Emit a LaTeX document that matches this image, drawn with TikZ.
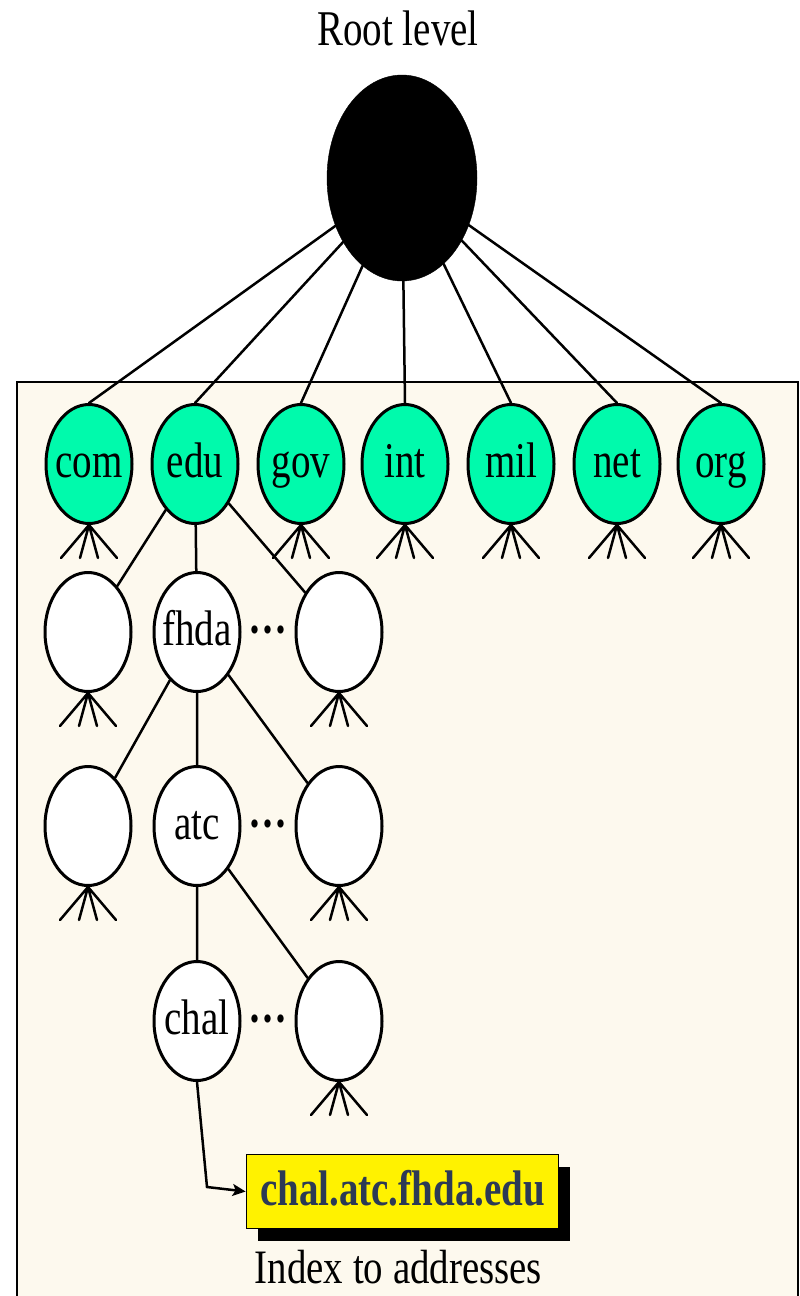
\documentclass[tikz,border=0pt]{standalone}
\usepackage{fontspec}
\setmainfont{Liberation Serif}[FakeStretch=0.78]
\newfontfamily\idxfont{Liberation Serif}[FakeStretch=0.81]
\usetikzlibrary{shapes.geometric,arrows.meta,shadows}
\definecolor{tldgreen}{RGB}{0,250,172}
\definecolor{paper}{RGB}{253,249,238}
\definecolor{addrtext}{RGB}{44,58,85}
\newcommand\crowfeet[1]{\draw[edge] (#1.south) -- ++(-28,33) (#1.south) -- ++(-9,33) (#1.south) -- ++(9,33) (#1.south) -- ++(28,33);}
\begin{document}
\begin{tikzpicture}[x=1pt,y=-1pt,
  edge/.style={line width=2.5pt, line cap=round},
  tld/.style={ellipse, draw, line width=3pt, fill=tldgreen, minimum width=86pt, minimum height=119pt, inner sep=0pt},
  sub/.style={tld, fill=white},
  lbl/.style={font=\fontsize{50}{50}\selectfont, text height=35pt, text depth=9pt, inner sep=0pt},
  big/.style={font=\fontsize{50}{50}\selectfont, inner sep=0pt},
]
\useasboundingbox (0,0) rectangle (800,1296);
\fill[white] (0,0) rectangle (800,1296);
\draw[line width=2.5pt, fill=paper] (17,382) rectangle (798,1320);

% root
\node[big, anchor=base] (rootlbl) at (398,45) {Root level};
\node[ellipse, fill=black, draw, minimum width=150pt, minimum height=206pt, inner sep=0pt] (root) at (402,178) {};

% top-level domains
\node[tld, label={[lbl]center:com}] (com) at (89,464) {};
\node[tld, label={[lbl]center:edu}] (edu) at (195,464) {};
\node[tld, label={[lbl]center:gov}] (gov) at (301,464) {};
\node[tld, label={[lbl]center:int}] (int) at (405,464) {};
\node[tld, label={[lbl]center:mil}] (mil) at (511,464) {};
\node[tld, label={[lbl]center:net}] (net) at (617,464) {};
\node[tld, label={[lbl]center:org}] (org) at (721,464) {};

\foreach \n in {com,edu,gov,int,mil,net,org} {\draw[edge] (root) -- (\n.north);}
\foreach \n in {com,gov,int,mil,net,org} {\crowfeet{\n}}

% second level
\node[sub] (l2) at (88,632) {};
\node[sub, label={[lbl]center:fhda}] (fhda) at (197,632) {};
\node[sub] (r2) at (339,632) {};
\node[big, anchor=base] (d2) at (268,646) {\textbf{···}};
\draw[edge] (edu) -- (l2) (edu) -- (fhda) (edu) -- (r2);
\crowfeet{l2}\crowfeet{r2}

% third level
\node[sub] (l3) at (88,826) {};
\node[sub, label={[lbl]center:atc}] (atc) at (197,826) {};
\node[sub] (r3) at (339,826) {};
\node[big, anchor=base] (d3) at (268,840) {\textbf{···}};
\draw[edge] (fhda) -- (l3) (fhda) -- (atc) (fhda) -- (r3);
\crowfeet{l3}\crowfeet{r3}

% fourth level
\node[sub, label={[lbl]center:chal}] (chal) at (197,1021) {};
\node[sub] (r4) at (339,1021) {};
\node[big, anchor=base] (d4) at (268,1035) {\textbf{···}};
\draw[edge] (atc) -- (chal) (atc) -- (r4);
\crowfeet{r4}

% address
\node[draw, line width=1.8pt, fill=yellow, minimum width=312pt, minimum height=74pt, inner sep=0pt,
      font=\fontsize{50}{50}\selectfont\bfseries, text=addrtext, text height=34pt, text depth=7pt,
      drop shadow={shadow xshift=11pt, shadow yshift=-12pt, fill=black, opacity=1}] (addr) at (402.5,1191.5) {chal.atc.fhda.edu};
\coordinate (bend) at (207,1187);
\draw[edge, -{Stealth[length=13pt,width=12pt,inset=3pt]}] (chal.south) -- (bend) -- (addr.west);
\node[font=\idxfont\fontsize{48}{48}\selectfont, anchor=base, inner sep=0pt] (idx) at (398.5,1283) {Index to addresses};
\end{tikzpicture}
\end{document}
